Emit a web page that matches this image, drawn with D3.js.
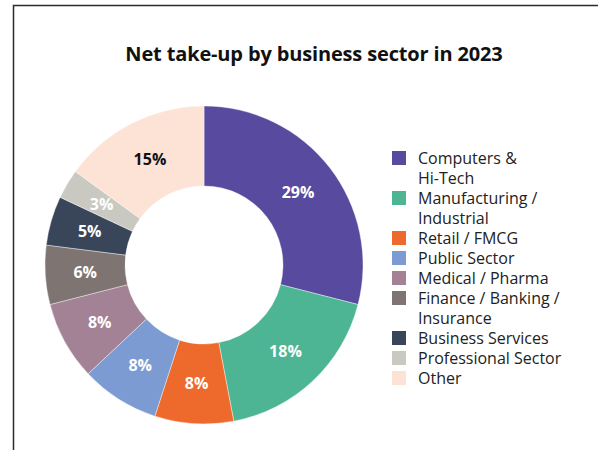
<!DOCTYPE html>
<html>
<head>
<meta charset="utf-8">
<script src="https://cdn.jsdelivr.net/npm/d3@7"></script>
<style>
  html, body { margin: 0; padding: 0; background: #fff; }
  svg { display: block; font-family: "Open Sans", "Noto Sans", sans-serif; }
</style>
</head>
<body>
<svg id="chart" width="598" height="450"></svg>
<script>
// Net take-up share by business sector, 2023
const sectors = [
  ["Computers &", "Hi-Tech"],
  ["Manufacturing /", "Industrial"],
  ["Retail / FMCG"],
  ["Public Sector"],
  ["Medical / Pharma"],
  ["Finance / Banking /", "Insurance"],
  ["Business Services"],
  ["Professional Sector"],
  ["Other"]
];
const shares = [29, 18, 8, 8, 8, 6, 5, 3, 15];
const colors = ["#584a9e", "#4db594", "#ee6a2c", "#7c9bd3", "#a48296",
                "#7e7572", "#39465a", "#c9c9c2", "#fde2d6"];
const labelColors = ["#fff", "#fff", "#fff", "#fff", "#fff", "#fff", "#fff", "#fff", "#111"];

const svg = d3.select("#chart");

// frame (top and left rules)
svg.append("path")
  .attr("d", "M13.5,450 V5.5 H598")
  .attr("fill", "none")
  .attr("stroke", "#2b2b2b")
  .attr("stroke-width", 1.5);

svg.append("text")
  .attr("x", 314).attr("y", 61)
  .attr("text-anchor", "middle")
  .attr("font-size", 20)
  .attr("letter-spacing", -0.15)
  .attr("font-weight", 700)
  .attr("fill", "#111")
  .text("Net take-up by business sector in 2023");

const cx = 204, cy = 265, rOuter = 159, rInner = 79;
const pie = d3.pie().sort(null).value(d => d);
const arc = d3.arc().innerRadius(rInner).outerRadius(rOuter);
const arcs = pie(shares);

const g = svg.append("g").attr("transform", `translate(${cx},${cy})`);
g.selectAll("path.slice")
  .data(arcs)
  .join("path")
  .attr("class", "slice")
  .attr("d", arc)
  .attr("fill", (d, i) => colors[i])
  .attr("stroke", "#fff")
  .attr("stroke-width", 0.4);

g.selectAll("text.val")
  .data(arcs)
  .join("text")
  .attr("class", "val")
  .attr("transform", d => `translate(${arc.centroid(d)})`)
  .attr("dy", "0.35em")
  .attr("text-anchor", "middle")
  .attr("font-size", 16)
  .attr("font-weight", 700)
  .attr("fill", (d, i) => labelColors[i])
  .text(d => d.data + "%");

// legend
const lineH = 20;
const legend = svg.append("g").attr("transform", "translate(392,151)");
let row = 0;
sectors.forEach((lines, i) => {
  const y = row * lineH;
  legend.append("rect")
    .attr("x", 0).attr("y", y)
    .attr("width", 14).attr("height", 14)
    .attr("fill", colors[i]);
  const t = legend.append("text")
    .attr("x", 26).attr("y", y + 13)
    .attr("font-size", 16)
    .attr("fill", "#222");
  lines.forEach((ln, j) => {
    t.append("tspan")
      .attr("x", 26)
      .attr("dy", j === 0 ? 0 : lineH)
      .text(ln);
  });
  row += lines.length;
});
</script>
</body>
</html>
